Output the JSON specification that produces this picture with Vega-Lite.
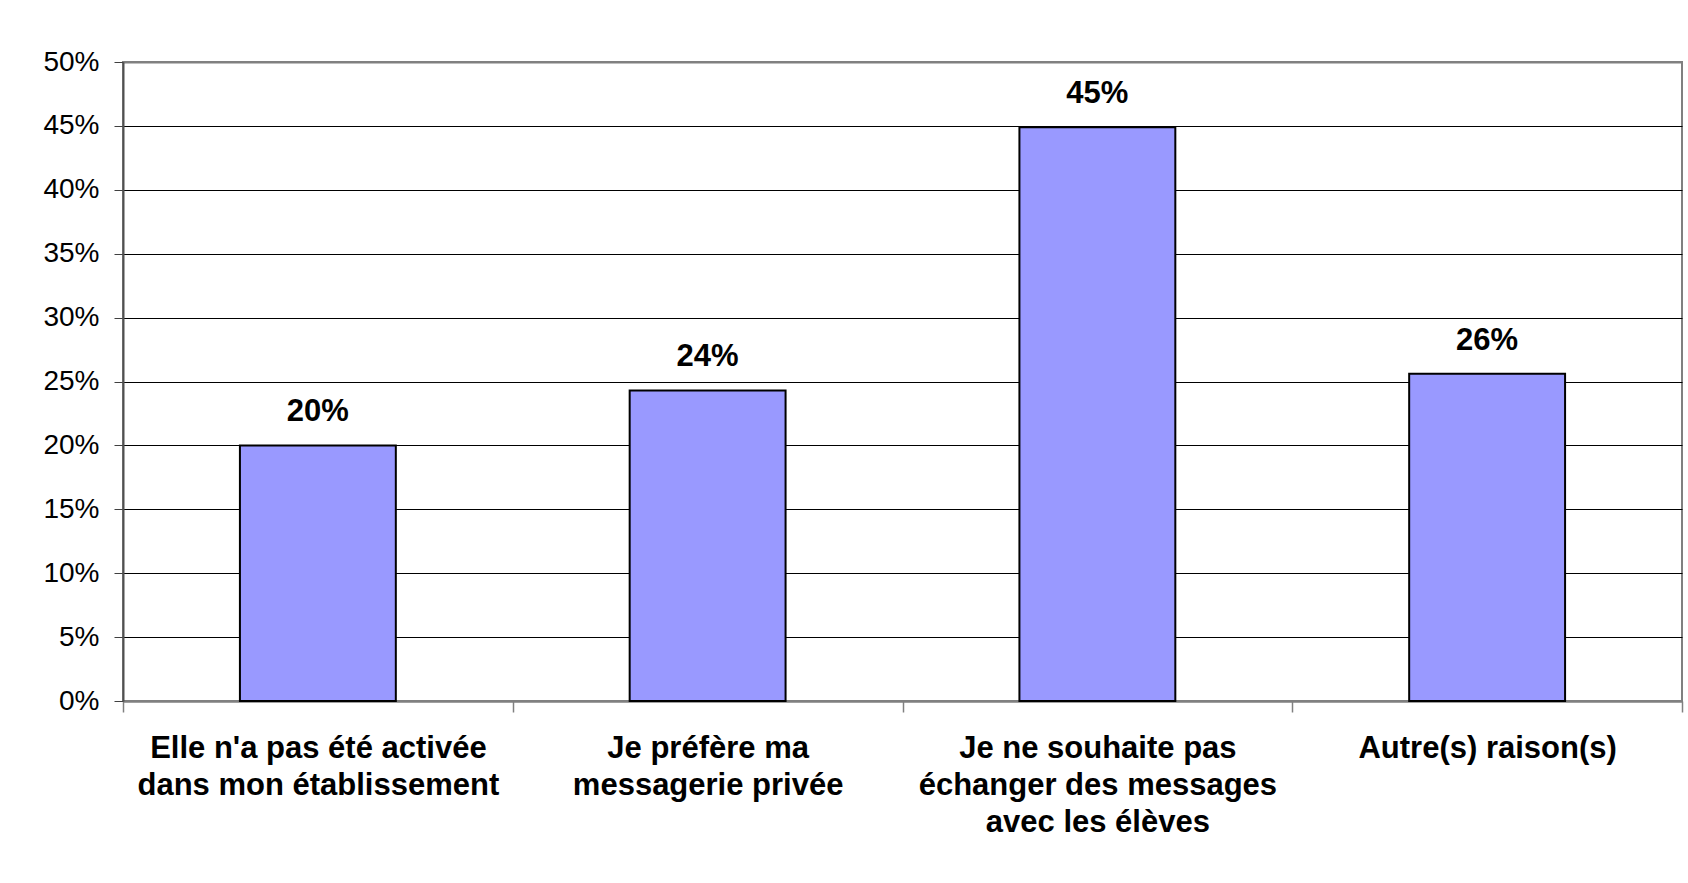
{
  "$schema": "https://vega.github.io/schema/vega-lite/v6.json",
  "autosize": "none",
  "width": 1559,
  "height": 639,
  "padding": {"left": 123, "top": 62, "right": 6, "bottom": 182},
  "background": "white",
  "config": {
    "font": "Liberation Sans",
    "view": {"stroke": "#808080", "strokeWidth": 2}
  },
  "data": {
    "values": [
      {"cat": "Elle n'a pas été activée|dans mon établissement", "value": 0.200},
      {"cat": "Je préfère ma|messagerie privée", "value": 0.243},
      {"cat": "Je ne souhaite pas|échanger des messages|avec les élèves", "value": 0.449},
      {"cat": "Autre(s) raison(s)", "value": 0.256}
    ]
  },
  "encoding": {
    "x": {
      "field": "cat",
      "type": "nominal",
      "sort": null,
      "title": null,
      "scale": {"paddingInner": 0, "paddingOuter": 0},
      "axis": {
        "labelExpr": "split(datum.label, '|')",
        "labelAngle": 0,
        "labelFont": "Liberation Sans",
        "labelFontSize": 31,
        "labelFontWeight": "bold",
        "labelColor": "black",
        "labelLineHeight": 37,
        "labelBaseline": "top",
        "labelPadding": 21,
        "labelLimit": 0,
        "tickBand": "extent",
        "tickSize": 11,
        "tickColor": "#808080",
        "tickWidth": 1.5,
        "domainColor": "#808080",
        "domainWidth": 2,
        "grid": false
      }
    },
    "y": {
      "field": "value",
      "type": "quantitative",
      "title": null,
      "scale": {"domain": [0, 0.5], "nice": false},
      "axis": {
        "values": [0, 0.05, 0.1, 0.15, 0.2, 0.25, 0.3, 0.35, 0.4, 0.45, 0.5],
        "format": ".0%",
        "labelFont": "Liberation Sans",
        "labelFontSize": 28,
        "labelColor": "black",
        "labelPadding": 15,
        "tickSize": 9,
        "tickColor": "#404040",
        "tickWidth": 1,
        "domainColor": "#505050",
        "domainWidth": 2,
        "grid": true,
        "gridColor": {"condition": {"test": "datum.value >= 0.5 || datum.value <= 0", "value": "#808080"}, "value": "black"},
        "gridWidth": {"condition": {"test": "datum.value >= 0.5 || datum.value <= 0", "value": 2}, "value": 1},
        "gridOpacity": 1
      }
    }
  },
  "layer": [
    {
      "mark": {"type": "bar", "fill": "#9999FF", "stroke": "black", "strokeWidth": 2, "width": {"band": 0.4}}
    },
    {
      "mark": {
        "type": "text",
        "font": "Liberation Sans",
        "fontSize": 31,
        "fontWeight": "bold",
        "color": "black",
        "baseline": "alphabetic",
        "dy": -24
      },
      "encoding": {
        "text": {"field": "value", "type": "quantitative", "format": ".0%"}
      }
    }
  ]
}
